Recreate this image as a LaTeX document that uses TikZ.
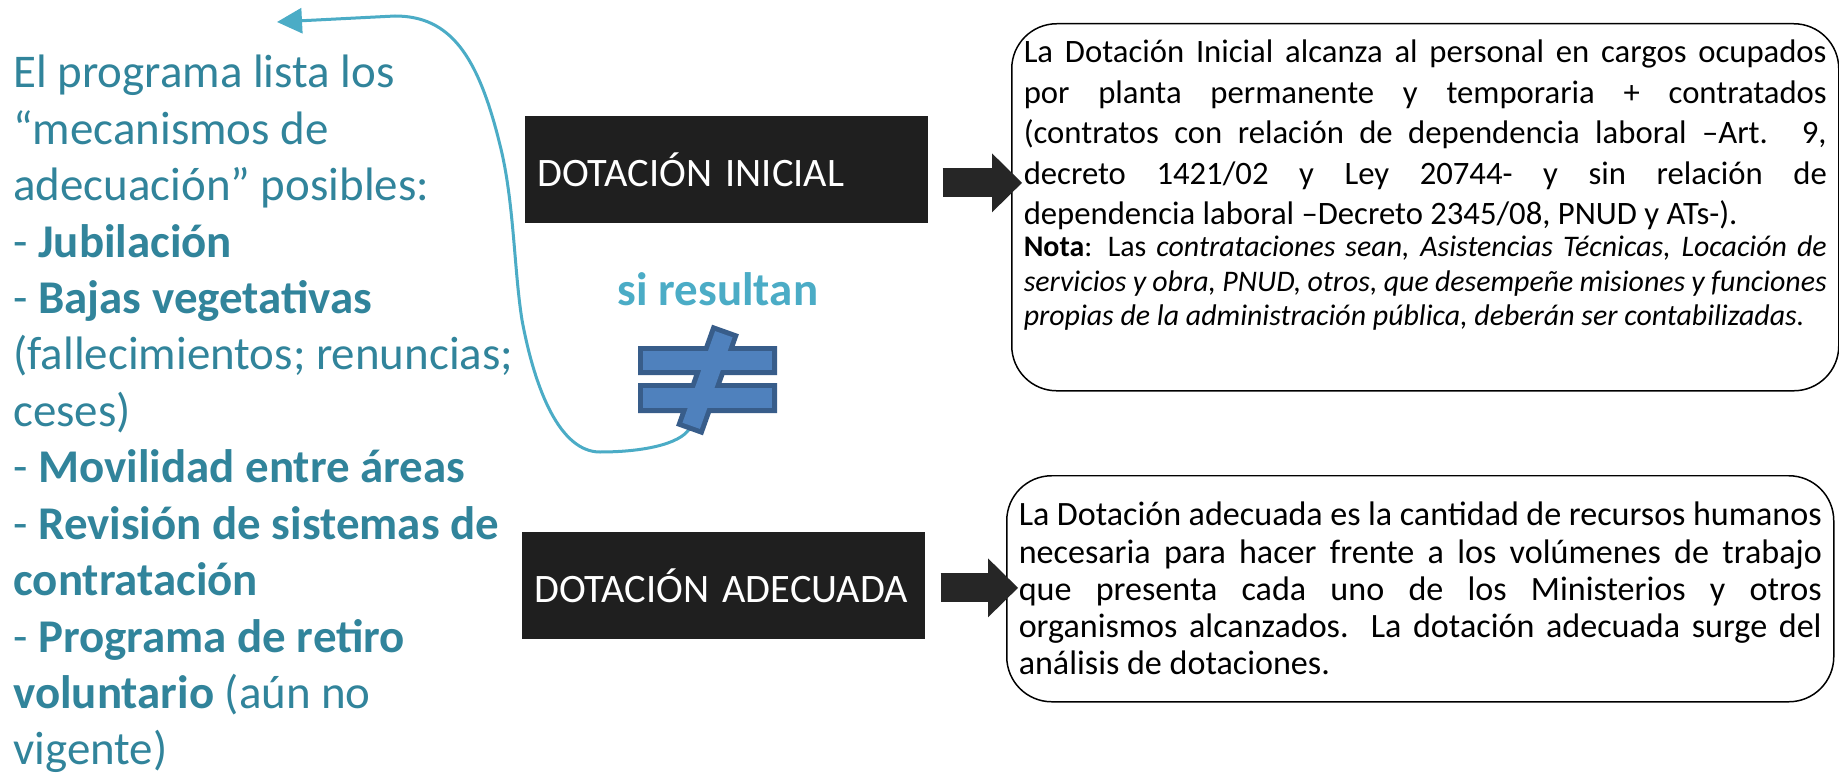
\documentclass[tikz,border=0pt]{standalone}
\usepackage{fontspec}
\setmainfont{Carlito}
\usetikzlibrary{arrows.meta, positioning}

\definecolor{listcolor}{HTML}{31849B}
\definecolor{curvecolor}{HTML}{4BACC6}
\definecolor{neqfill}{HTML}{4F81BD}
\definecolor{neqdraw}{HTML}{385D8A}

% full justified line
\newlength{\linew}
\setlength{\linew}{160.6mm}
\newcommand{\jline}[1]{\leavevmode\hbox to \linew{#1}\par}

\begin{document}
\begin{tikzpicture}[x=0.2mm, y=-0.2mm,
  listtext/.style={anchor=north west, inner sep=0pt, align=left, text=listcolor,
    font=\fontsize{26.7}{32.1}\selectfont},
  dotbox/.style={anchor=north west, fill=black!88, text=white, align=left,
    font=\fontsize{23}{28}\selectfont, text width=75.8mm, inner xsep=2.4mm,
    inner ysep=0pt, minimum height=21.4mm},
  textbox/.style={anchor=north west, draw, line width=0.85pt, rounded corners=9mm,
    align=left, text width=160.6mm, inner xsep=2.4mm, inner ysep=3mm},
  blockarrow/.style={black!85, line width=5.8mm, shorten >=0.6mm,
    -{Triangle[length=6mm, width=11.8mm, line width=0pt]}},
  curvearrow/.style={curvecolor, line width=0.6mm, -{Triangle[length=5mm, width=5mm]}}]
  \useasboundingbox (0,0) rectangle (1839,779);
  \fill[white] (0,0) rectangle (1839,779);

  \node[listtext] (lista) at (13,55) {El programa lista los\\
    “mecanismos de\\
    adecuación” posibles:\\
    - \textbf{Jubilación}\\
    - \textbf{Bajas vegetativas}\\
    (fallecimientos; renuncias;\\
    ceses)\\
    - \textbf{Movilidad entre áreas}\\
    - \textbf{Revisión de sistemas de}\\
    \textbf{contratación}\\
    - \textbf{Programa de retiro}\\
    \textbf{voluntario} (aún no\\
    vigente)};

  \node[dotbox] (inicial) at (525,116) {DOTACIÓN INICIAL};
  \node[dotbox] (adecuada) at (522,532) {DOTACIÓN ADECUADA};

  \node[textbox] (txtinicial) at (1011,23) {%
    \spaceskip=0pt \xspaceskip=0pt
    \fontsize{18.6}{23}\selectfont
    \jline{\rule{0pt}{4.8mm}La Dotación Inicial alcanza al personal en cargos ocupados}
    \jline{por planta permanente y temporaria + contratados}
    \jline{(contratos con relación de dependencia laboral –Art. 9,}
    \jline{decreto 1421/02 y Ley 20744- y sin relación de}
    dependencia laboral –Decreto 2345/08, PNUD y ATs-).\par
    \vspace{-0.5mm}\fontsize{17}{19.7}\selectfont
    \jline{\textbf{Nota}: Las \textit{contrataciones sean, Asistencias Técnicas, Locación de}}
    \jline{\textit{servicios y obra, PNUD, otros, que desempeñe misiones y funciones}}
    \textit{propias de la administración pública, deberán ser contabilizadas.}\rule[-10mm]{0pt}{10mm}\par};

  \node[textbox] (txtadecuada) at (1006,475) {%
    \spaceskip=0pt \xspaceskip=0pt
    \fontsize{19.4}{21.2}\selectfont
    \jline{\rule{0pt}{7mm}La Dotación adecuada es la cantidad de recursos humanos}
    \jline{necesaria para hacer frente a los volúmenes de trabajo}
    \jline{que presenta cada uno de los Ministerios y otros}
    \jline{organismos alcanzados. La dotación adecuada surge del}
    análisis de dotaciones.\rule[-2.4mm]{0pt}{2.4mm}\par};

  \draw[blockarrow] ([shift={(14,13)}]inicial.east) -- ([shift={(14,13)}]inicial.east -| txtinicial.west);
  \draw[blockarrow] ([shift={(15,2)}]adecuada.east) -- ([shift={(15,2)}]adecuada.east -| txtadecuada.west);

  \node[anchor=base, text=curvecolor, font=\bfseries\fontsize{26.7}{32}\selectfont] (resultan) at (718,305) {si resultan};

  % curve back to the list
  \coordinate (neqend) at (690,428);
  \coordinate (listatip) at (277,22);
  \draw[curvearrow] (neqend) .. controls (680,445) and (640,452) .. (600,452)
    .. controls (560,452) and (535,390) .. (522,320)
    .. controls (514,270) and (514,200) .. (500,145)
    .. controls (478,55) and (450,16) .. (395,16) -- (listatip);

  % not equal sign
  \draw[neqdraw, line width=2mm] (643,351) rectangle (772,370) (643,388) rectangle (772,408)
    (715.1,331.1) -- (732.5,337.3) -- (699.9,428.9) -- (682.5,422.7) -- cycle;
  \fill[neqfill] (643,351) rectangle (772,370);
  \fill[neqfill] (643,388) rectangle (772,408);
  \fill[neqfill] (715.1,331.1) -- (732.5,337.3) -- (699.9,428.9) -- (682.5,422.7) -- cycle;
\end{tikzpicture}
\end{document}
